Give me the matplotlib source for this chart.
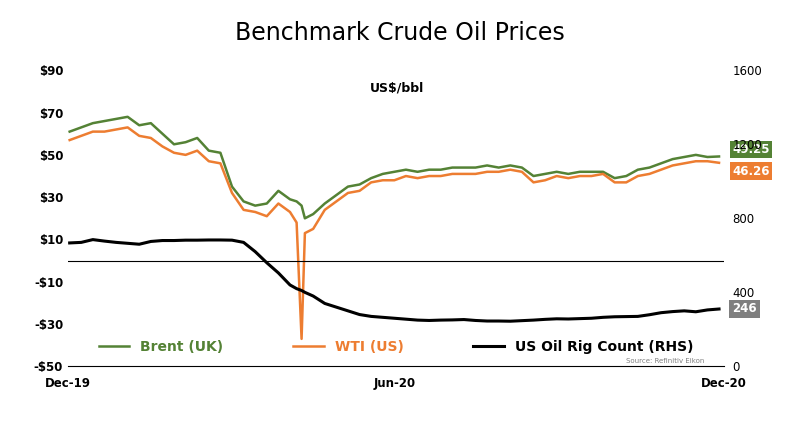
import matplotlib
matplotlib.use("Agg")
import matplotlib.pyplot as plt
import pandas as pd

dates = pd.to_datetime([
 "2019-12-02","2019-12-09","2019-12-16","2019-12-23","2019-12-30","2020-01-06","2020-01-13","2020-01-20","2020-01-27",
 "2020-02-03","2020-02-10","2020-02-17","2020-02-24","2020-03-02","2020-03-09","2020-03-16","2020-03-23","2020-03-30",
 "2020-04-06","2020-04-13","2020-04-17","2020-04-20","2020-04-22","2020-04-27","2020-05-04","2020-05-11","2020-05-18","2020-05-25",
 "2020-06-01","2020-06-08","2020-06-15","2020-06-22","2020-06-29","2020-07-06","2020-07-13","2020-07-20","2020-07-27",
 "2020-08-03","2020-08-10","2020-08-17","2020-08-24","2020-08-31","2020-09-07","2020-09-14","2020-09-21","2020-09-28",
 "2020-10-05","2020-10-12","2020-10-19","2020-10-26","2020-11-02","2020-11-09","2020-11-16","2020-11-23","2020-11-30",
 "2020-12-07","2020-12-14","2020-12-21","2020-12-28"])
brent = [61,63,65,66,67,68,64,65,60,55,56,58,52,51,35,28,26,27,33,29,28,26,20,22,27,31,35,36,39,41,42,43,42,43,43,44,44,
 44,45,44,45,44,40,41,42,41,42,42,42,39,40,43,44,46,48,49,50,49,49.25]
wti = [57,59,61,61,62,63,59,58,54,51,50,52,47,46,32,24,23,21,27,23,18,-37,13,15,24,28,32,33,37,38,38,40,39,40,40,41,41,
 41,42,42,43,42,37,38,40,39,40,40,41,37,37,40,41,43,45,46,47,47,46.26]
rigs = [667,670,685,677,670,665,660,675,680,680,682,682,683,683,682,670,620,560,505,440,420,410,400,380,340,320,300,280,
 270,265,260,255,250,248,250,251,253,248,245,245,244,247,250,254,257,256,258,260,265,268,269,270,279,290,296,300,295,305,310]

fig = plt.figure(figsize=(8,4.26), dpi=100)
ax = fig.add_axes([0.085, 0.14, 0.82, 0.695])
ax2 = ax.twinx()
ax.plot(dates, brent, color="#548235", lw=1.8, label="Brent (UK)")
ax.plot(dates, wti, color="#ED7D31", lw=1.8, label="WTI (US)")
ax2.plot(dates, rigs, color="black", lw=2.2, label="US Oil Rig Count (RHS)")
ax.set_ylim(-50,90); ax.set_yticks(range(-50,91,20))
ax.set_yticklabels([f"-${-v}" if v<0 else f"${v}" for v in range(-50,91,20)], fontweight="bold", fontsize=8.5)
ax2.set_ylim(0,1600); ax2.set_yticks(range(0,1601,400))
ax2.tick_params(labelsize=8.5, length=0, pad=6)
ax.tick_params(axis="y", length=0)
ax.tick_params(axis="x", length=0, pad=8)
xs = [pd.Timestamp("2019-12-01"), pd.Timestamp("2020-06-15"), pd.Timestamp("2020-12-31")]
ax.set_xlim(xs[0], xs[2])
ax.set_xticks(xs); ax.set_xticklabels(["Dec-19","Jun-20","Dec-20"], fontweight="bold", fontsize=8.5)
for a in (ax, ax2):
    for s in a.spines.values(): s.set_visible(False)
ax.spines["bottom"].set_visible(True)
ax.axhline(0, color="black", lw=0.8)
fig.suptitle("Benchmark Crude Oil Prices", y=0.95, fontsize=17)
ax.text(0.46, 0.93, "US$/bbl", transform=ax.transAxes, fontweight="bold", fontsize=9)
h1,l1 = ax.get_legend_handles_labels(); h2,l2 = ax2.get_legend_handles_labels()
leg = ax.legend(h1+h2, l1+l2, loc="lower center", bbox_to_anchor=(0.5,0.0), ncol=3, frameon=False,
                prop={"weight":"bold","size":10}, handlelength=2.2, columnspacing=5)
for t,c in zip(leg.get_texts(), ["#548235","#ED7D31","black"]): t.set_color(c)
ax.text(0.97, 0.01, "Source: Refinitiv Eikon", transform=ax.transAxes, fontsize=5, ha="right", color="gray")
for val,c,txt,off in [(brent[-1],"#548235","49.25",5),(wti[-1],"#ED7D31","46.26",-6)]:
    ax.annotate(txt, xy=(1.0, val), xycoords=("axes fraction","data"), xytext=(6, off), textcoords="offset points",
                va="center", ha="left", color="white", fontweight="bold", fontsize=8.5,
                bbox=dict(boxstyle="square,pad=0.2", fc=c, ec="none"))
ax2.annotate("246", xy=(1.0, rigs[-1]), xycoords=("axes fraction","data"), xytext=(6, 0), textcoords="offset points",
             va="center", ha="left", color="white", fontweight="bold", fontsize=8.5,
             bbox=dict(boxstyle="square,pad=0.25", fc="#7F7F7F", ec="none"))
fig.savefig("out.png")
